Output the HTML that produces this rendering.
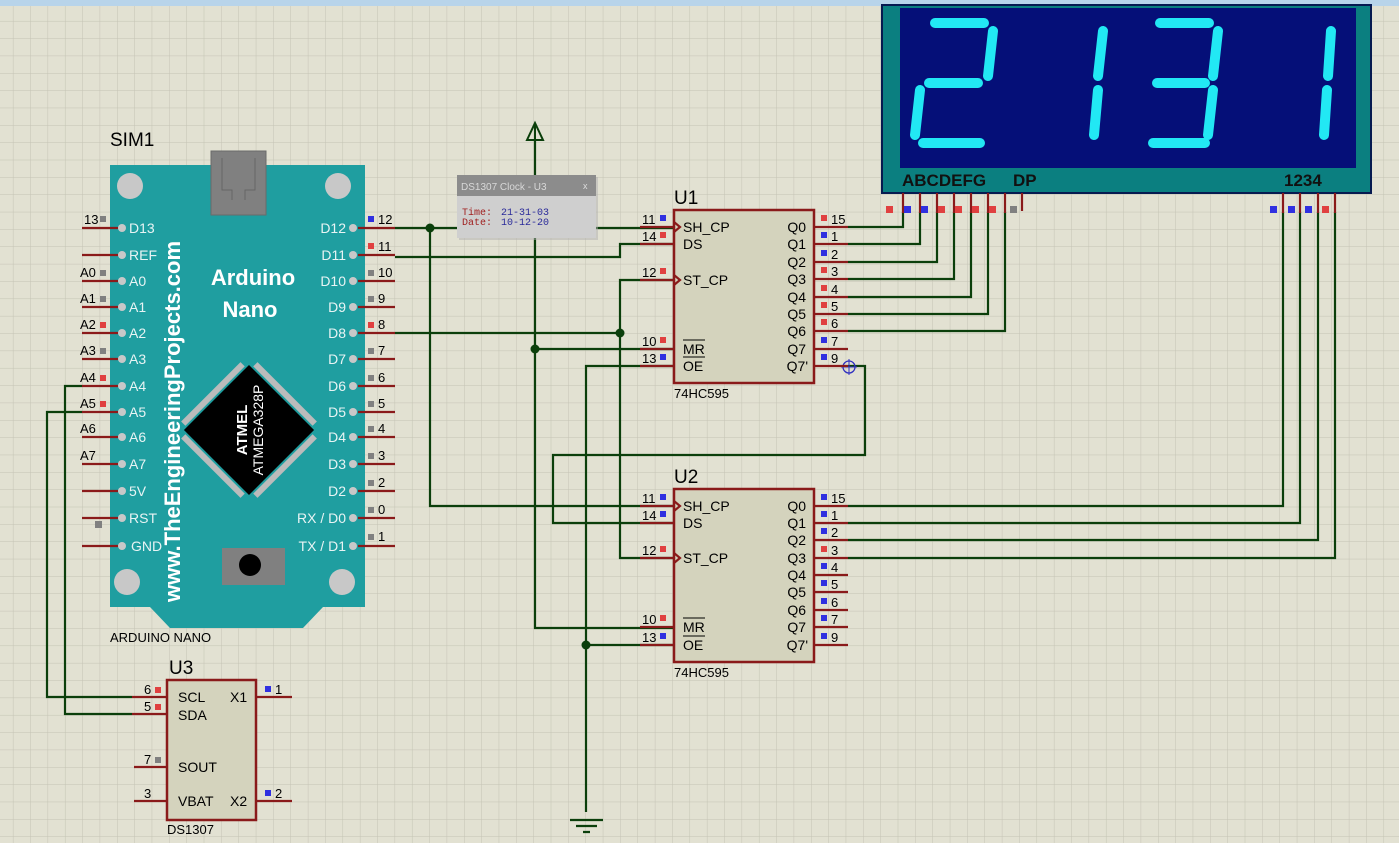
<!DOCTYPE html>
<html><head><meta charset="utf-8"><style>
html,body{margin:0;padding:0;background:#e2e1d2;}
svg{display:block;font-family:"Liberation Sans",sans-serif;}
</style></head><body>
<svg width="1399" height="843" viewBox="0 0 1399 843" xmlns="http://www.w3.org/2000/svg">
<defs>
<pattern id="g" x="12.9" y="3.6" width="17.35" height="17.35" patternUnits="userSpaceOnUse">
<path d="M0 0H17.35M0 0V17.35" stroke="#c4c3b4" stroke-width="1" fill="none"/>
</pattern>
</defs>
<rect width="1399" height="843" fill="#e2e1d2"/>
<rect width="1399" height="843" fill="url(#g)"/>
<rect x="0" y="0" width="1399" height="6" fill="#b8d4ea"/>

<!-- WIRES -->
<g stroke="#0b3f0b" stroke-width="2.2" fill="none">
<path d="M395 228H674"/>
<path d="M430 228V506H674"/>
<path d="M395 257H620V244H674"/>
<path d="M535 140V628H674"/>
<path d="M535 349H674"/>
<path d="M395 333H620"/>
<path d="M674 280H620V558H674"/>
<path d="M674 366H586V812"/>
<path d="M586 645H674"/>
<path d="M848 366H865V455H553V523H674"/>
<path d="M848 227H903V212"/>
<path d="M848 244H920V212"/>
<path d="M848 262H937V212"/>
<path d="M848 279H954V212"/>
<path d="M848 297H971V212"/>
<path d="M848 314H988V212"/>
<path d="M848 331H1005V212"/>
<path d="M848 506H1283V212"/>
<path d="M848 523H1300V212"/>
<path d="M848 540H1318V212"/>
<path d="M848 558H1335V212"/>
<path d="M82 386H65V714H132"/>
<path d="M82 412H47V697H132"/>
<path d="M570 820H603M576 826H597M583 832H590"/>
</g>
<g fill="#0b3f0b">
<circle cx="430" cy="228" r="4.5"/><circle cx="535" cy="349" r="4.5"/>
<circle cx="620" cy="333" r="4.5"/><circle cx="586" cy="645" r="4.5"/>
</g>
<path d="M535 140V123M527 140L535 123L543 140Z" stroke="#0b3f0b" stroke-width="2" fill="none"/>
<circle cx="849" cy="367" r="6" stroke="#3030c0" fill="none" stroke-width="1.3"/>
<path d="M841 367H857M849 359V375" stroke="#3030c0" stroke-width="1"/>

<!-- ARDUINO -->
<text x="110" y="146" font-size="19">SIM1</text>
<path d="M110 165H365V607H323L303 628H170L150 607H110Z" fill="#1f9ea0"/>
<circle cx="130" cy="186" r="13" fill="#c8c8c8"/><circle cx="338" cy="186" r="13" fill="#c8c8c8"/>
<circle cx="127" cy="582" r="13" fill="#c8c8c8"/><circle cx="342" cy="582" r="13" fill="#c8c8c8"/>
<rect x="211" y="151" width="55" height="64" fill="#808080" stroke="#6a6a6a"/>
<path d="M222 158V190H232V200M255 158V190H245V200" stroke="#666" fill="none"/>
<rect x="222" y="548" width="63" height="37" fill="#808080"/>
<circle cx="250" cy="565" r="11" fill="#000"/>
<g transform="translate(249,430) rotate(45)">
<rect x="-46" y="-46" width="92" height="92" fill="#000"/>
<rect x="-42" y="-54" width="84" height="6" fill="#bbb"/><rect x="-42" y="48" width="84" height="6" fill="#bbb"/>
<rect x="-54" y="-42" width="6" height="84" fill="#bbb"/><rect x="48" y="-42" width="6" height="84" fill="#bbb"/>
</g>
<g transform="translate(249,430) rotate(-90)" fill="#fff" text-anchor="middle">
<text x="0" y="-2" font-size="15" font-weight="bold">ATMEL</text>
<text x="0" y="14" font-size="14">ATMEGA328P</text>
</g>
<text transform="translate(180,602) rotate(-90)" font-size="22" font-weight="bold" fill="#fff">www.TheEngineeringProjects.com</text>
<text x="253" y="285" font-size="22" font-weight="bold" fill="#fff" text-anchor="middle">Arduino</text>
<text x="250" y="317" font-size="22" font-weight="bold" fill="#fff" text-anchor="middle">Nano</text>
<text x="110" y="642" font-size="13">ARDUINO NANO</text>

<g stroke="#8a1a1a" stroke-width="2.2">
<path d="M82 228H118M82 255H118M82 281H118M82 307H118M82 333H118M82 359H118M82 386H118M82 412H118M82 437H118M82 464H118M82 491H118M82 518H118M82 546H118"/>
<path d="M358 228H395M358 255H395M358 281H395M358 307H395M358 333H395M358 359H395M358 386H395M358 412H395M358 437H395M358 464H395M358 491H395M358 518H395M358 546H395"/>
</g>
<g fill="#c8c8c8">
<circle cx="122" cy="228" r="4"/><circle cx="122" cy="255" r="4"/><circle cx="122" cy="281" r="4"/><circle cx="122" cy="307" r="4"/><circle cx="122" cy="333" r="4"/><circle cx="122" cy="359" r="4"/><circle cx="122" cy="386" r="4"/><circle cx="122" cy="412" r="4"/><circle cx="122" cy="437" r="4"/><circle cx="122" cy="464" r="4"/><circle cx="122" cy="491" r="4"/><circle cx="122" cy="518" r="4"/><circle cx="122" cy="546" r="4"/>
<circle cx="353" cy="228" r="4"/><circle cx="353" cy="255" r="4"/><circle cx="353" cy="281" r="4"/><circle cx="353" cy="307" r="4"/><circle cx="353" cy="333" r="4"/><circle cx="353" cy="359" r="4"/><circle cx="353" cy="386" r="4"/><circle cx="353" cy="412" r="4"/><circle cx="353" cy="437" r="4"/><circle cx="353" cy="464" r="4"/><circle cx="353" cy="491" r="4"/><circle cx="353" cy="518" r="4"/><circle cx="353" cy="546" r="4"/>
</g>
<g fill="#e8f4f4" font-size="14">
<text x="129" y="233">D13</text><text x="129" y="260">REF</text><text x="129" y="286">A0</text><text x="129" y="312">A1</text><text x="129" y="338">A2</text><text x="129" y="364">A3</text><text x="129" y="391">A4</text><text x="129" y="417">A5</text><text x="129" y="442">A6</text><text x="129" y="469">A7</text><text x="129" y="496">5V</text><text x="129" y="523">RST</text><text x="131" y="551">GND</text>
</g>
<g fill="#e8f4f4" font-size="14" text-anchor="end">
<text x="346" y="233">D12</text><text x="346" y="260">D11</text><text x="346" y="286">D10</text><text x="346" y="312">D9</text><text x="346" y="338">D8</text><text x="346" y="364">D7</text><text x="346" y="391">D6</text><text x="346" y="417">D5</text><text x="346" y="442">D4</text><text x="346" y="469">D3</text><text x="346" y="496">D2</text><text x="346" y="523">RX / D0</text><text x="346" y="551">TX /  D1</text>
</g>
<g font-size="13">
<text x="84" y="224">13</text><text x="80" y="277">A0</text><text x="80" y="303">A1</text><text x="80" y="329">A2</text><text x="80" y="355">A3</text><text x="80" y="382">A4</text><text x="80" y="408">A5</text><text x="80" y="433">A6</text><text x="80" y="460">A7</text>
<text x="378" y="224">12</text><text x="378" y="251">11</text><text x="378" y="277">10</text><text x="378" y="303">9</text><text x="378" y="329">8</text><text x="378" y="355">7</text><text x="378" y="382">6</text><text x="378" y="408">5</text><text x="378" y="433">4</text><text x="378" y="460">3</text><text x="378" y="487">2</text><text x="378" y="514">0</text><text x="378" y="541">1</text>
</g>
<g>
<rect x="100" y="216" width="6" height="6" fill="#808080"/><rect x="100" y="296" width="6" height="6" fill="#808080"/><rect x="100" y="270" width="6" height="6" fill="#808080"/><rect x="100" y="322" width="6" height="6" fill="#e04040"/><rect x="100" y="348" width="6" height="6" fill="#808080"/><rect x="100" y="375" width="6" height="6" fill="#e04040"/><rect x="100" y="401" width="6" height="6" fill="#e04040"/><rect x="95" y="521" width="7" height="7" fill="#808080"/>
<rect x="368" y="216" width="6" height="6" fill="#3030e0"/><rect x="368" y="243" width="6" height="6" fill="#e04040"/><rect x="368" y="270" width="6" height="6" fill="#808080"/><rect x="368" y="296" width="6" height="6" fill="#808080"/><rect x="368" y="322" width="6" height="6" fill="#e04040"/><rect x="368" y="348" width="6" height="6" fill="#808080"/><rect x="368" y="375" width="6" height="6" fill="#808080"/><rect x="368" y="401" width="6" height="6" fill="#808080"/><rect x="368" y="426" width="6" height="6" fill="#808080"/><rect x="368" y="453" width="6" height="6" fill="#808080"/><rect x="368" y="480" width="6" height="6" fill="#808080"/><rect x="368" y="507" width="6" height="6" fill="#808080"/><rect x="368" y="534" width="6" height="6" fill="#808080"/>
</g>

<!-- POPUP -->
<rect x="459" y="177" width="139" height="63" fill="#b0b0b0" opacity="0.5"/>
<rect x="457" y="175" width="139" height="63" fill="#cfcfcf"/>
<rect x="457" y="175" width="139" height="21" fill="#8c8c8c"/>
<text x="461" y="190" font-size="10" fill="#d8d8d8">DS1307 Clock - U3</text>
<text x="583" y="189" font-size="9" fill="#ddd">x</text>
<g font-family="Liberation Mono,monospace" font-size="10">
<text x="462" y="215" fill="#a02020">Time:</text><text x="501" y="215" fill="#2a2a9a">21-31-03</text>
<text x="462" y="225" fill="#a02020">Date:</text><text x="501" y="225" fill="#2a2a9a">10-12-20</text>
</g>

<!-- 74HC595 chips -->
<g id="chip">
<text x="674" y="204" font-size="19">U1</text>
<rect x="674" y="210" width="140" height="173" fill="#d4d3bd" stroke="#8a1a1a" stroke-width="2.5"/>
</g>
<text x="674" y="483" font-size="19">U2</text>
<rect x="674" y="489" width="140" height="173" fill="#d4d3bd" stroke="#8a1a1a" stroke-width="2.5"/>
<g stroke="#8a1a1a" stroke-width="2.2">
<path d="M640 227H674M640 244H674M640 280H674M640 349H674M640 366H674"/>
<path d="M814 227H848M814 244H848M814 262H848M814 279H848M814 297H848M814 314H848M814 331H848M814 349H848M814 366H848"/>
<path d="M640 506H674M640 523H674M640 558H674M640 627H674M640 645H674"/>
<path d="M814 506H848M814 523H848M814 540H848M814 558H848M814 575H848M814 592H848M814 610H848M814 627H848M814 645H848"/>
<path d="M674 222L680 227L674 232M674 275L680 280L674 285M674 501L680 506L674 511M674 553L680 558L674 563" fill="none"/>
</g>
<g font-size="14">
<text x="683" y="232">SH_CP</text><text x="683" y="249">DS</text><text x="683" y="285">ST_CP</text><text x="683" y="354">MR</text><text x="683" y="371">OE</text>
<text x="683" y="511">SH_CP</text><text x="683" y="528">DS</text><text x="683" y="563">ST_CP</text><text x="683" y="632">MR</text><text x="683" y="650">OE</text>
</g>
<path d="M683 340H705M683 357H705M683 618H705M683 636H705" stroke="#000" stroke-width="1"/>
<g font-size="14" text-anchor="end">
<text x="806" y="232">Q0</text><text x="806" y="249">Q1</text><text x="806" y="267">Q2</text><text x="806" y="284">Q3</text><text x="806" y="302">Q4</text><text x="806" y="319">Q5</text><text x="806" y="336">Q6</text><text x="806" y="354">Q7</text><text x="808" y="371">Q7'</text>
<text x="806" y="511">Q0</text><text x="806" y="528">Q1</text><text x="806" y="545">Q2</text><text x="806" y="563">Q3</text><text x="806" y="580">Q4</text><text x="806" y="597">Q5</text><text x="806" y="615">Q6</text><text x="806" y="632">Q7</text><text x="808" y="650">Q7'</text>
</g>
<g font-size="13">
<text x="642" y="224">11</text><text x="642" y="241">14</text><text x="642" y="277">12</text><text x="642" y="346">10</text><text x="642" y="363">13</text>
<text x="642" y="503">11</text><text x="642" y="520">14</text><text x="642" y="555">12</text><text x="642" y="624">10</text><text x="642" y="642">13</text>
<text x="831" y="224">15</text><text x="831" y="241">1</text><text x="831" y="259">2</text><text x="831" y="276">3</text><text x="831" y="294">4</text><text x="831" y="311">5</text><text x="831" y="328">6</text><text x="831" y="346">7</text><text x="831" y="363">9</text>
<text x="831" y="503">15</text><text x="831" y="520">1</text><text x="831" y="537">2</text><text x="831" y="555">3</text><text x="831" y="572">4</text><text x="831" y="589">5</text><text x="831" y="607">6</text><text x="831" y="624">7</text><text x="831" y="642">9</text>
</g>
<g>
<rect x="660" y="215" width="6" height="6" fill="#3030e0"/><rect x="660" y="232" width="6" height="6" fill="#e04040"/><rect x="660" y="268" width="6" height="6" fill="#e04040"/><rect x="660" y="337" width="6" height="6" fill="#e04040"/><rect x="660" y="354" width="6" height="6" fill="#3030e0"/>
<rect x="660" y="494" width="6" height="6" fill="#3030e0"/><rect x="660" y="511" width="6" height="6" fill="#3030e0"/><rect x="660" y="546" width="6" height="6" fill="#e04040"/><rect x="660" y="615" width="6" height="6" fill="#e04040"/><rect x="660" y="633" width="6" height="6" fill="#3030e0"/>
<rect x="821" y="215" width="6" height="6" fill="#e04040"/><rect x="821" y="232" width="6" height="6" fill="#3030e0"/><rect x="821" y="250" width="6" height="6" fill="#3030e0"/><rect x="821" y="267" width="6" height="6" fill="#e04040"/><rect x="821" y="285" width="6" height="6" fill="#e04040"/><rect x="821" y="302" width="6" height="6" fill="#e04040"/><rect x="821" y="319" width="6" height="6" fill="#e04040"/><rect x="821" y="337" width="6" height="6" fill="#3030e0"/><rect x="821" y="354" width="6" height="6" fill="#3030e0"/>
<rect x="821" y="494" width="6" height="6" fill="#3030e0"/><rect x="821" y="511" width="6" height="6" fill="#3030e0"/><rect x="821" y="528" width="6" height="6" fill="#3030e0"/><rect x="821" y="546" width="6" height="6" fill="#e04040"/><rect x="821" y="563" width="6" height="6" fill="#3030e0"/><rect x="821" y="580" width="6" height="6" fill="#3030e0"/><rect x="821" y="598" width="6" height="6" fill="#3030e0"/><rect x="821" y="615" width="6" height="6" fill="#3030e0"/><rect x="821" y="633" width="6" height="6" fill="#3030e0"/>
</g>
<text x="674" y="398" font-size="13">74HC595</text>
<text x="674" y="677" font-size="13">74HC595</text>

<!-- U3 DS1307 -->
<text x="169" y="674" font-size="19">U3</text>
<rect x="167" y="680" width="89" height="140" fill="#d4d3bd" stroke="#8a1a1a" stroke-width="2.5"/>
<g stroke="#8a1a1a" stroke-width="2.2">
<path d="M132 697H167M132 714H167M134 767H167M134 801H167M256 697H292M256 801H292"/>
</g>
<g font-size="14">
<text x="178" y="702">SCL</text><text x="178" y="720">SDA</text><text x="178" y="772">SOUT</text><text x="178" y="806">VBAT</text>
<text x="230" y="702">X1</text><text x="230" y="806">X2</text>
</g>
<g font-size="13">
<text x="144" y="694">6</text><text x="144" y="711">5</text><text x="144" y="764">7</text><text x="144" y="798">3</text><text x="275" y="694">1</text><text x="275" y="798">2</text>
</g>
<rect x="155" y="687" width="6" height="6" fill="#e04040"/><rect x="155" y="704" width="6" height="6" fill="#e04040"/><rect x="155" y="757" width="6" height="6" fill="#808080"/>
<rect x="265" y="686" width="6" height="6" fill="#3030e0"/><rect x="265" y="790" width="6" height="6" fill="#3030e0"/>
<text x="167" y="834" font-size="13">DS1307</text>

<!-- DISPLAY -->
<rect x="882" y="5" width="489" height="188" fill="#0b7f80" stroke="#061a50" stroke-width="2"/>
<rect x="900" y="8" width="456" height="160" fill="#050f78"/>
<g stroke="#22e8f4" stroke-width="10" stroke-linecap="round">
<path d="M935 23H984M993 31L988 76M929 83H978M920 90L915 135M923 143H980"/>
<path d="M1103 31L1098 76M1098 90L1094 135"/>
<path d="M1160 23H1209M1218 31L1213 76M1157 83H1205M1213 90L1208 135M1153 143H1205"/>
<path d="M1331 31L1328 76M1327 90L1324 135"/>
</g>
<g font-size="17" font-weight="bold" fill="#111">
<text x="902" y="186">ABCDEFG</text><text x="1013" y="186">DP</text><text x="1284" y="186">1234</text>
</g>
<g stroke="#8a1a1a" stroke-width="2.2">
<path d="M903 193V213M920 193V213M937 193V213M954 193V213M971 193V213M988 193V213M1005 193V213M1022 193V211M1283 193V213M1300 193V213M1318 193V213M1335 193V213"/>
</g>
<g>
<rect x="886" y="206" width="7" height="7" fill="#e04040"/><rect x="904" y="206" width="7" height="7" fill="#3030e0"/><rect x="921" y="206" width="7" height="7" fill="#3030e0"/><rect x="938" y="206" width="7" height="7" fill="#e04040"/><rect x="955" y="206" width="7" height="7" fill="#e04040"/><rect x="972" y="206" width="7" height="7" fill="#e04040"/><rect x="989" y="206" width="7" height="7" fill="#e04040"/><rect x="1010" y="206" width="7" height="7" fill="#808080"/>
<rect x="1270" y="206" width="7" height="7" fill="#3030e0"/><rect x="1288" y="206" width="7" height="7" fill="#3030e0"/><rect x="1305" y="206" width="7" height="7" fill="#3030e0"/><rect x="1322" y="206" width="7" height="7" fill="#e04040"/>
</g>
</svg>
</body></html>
